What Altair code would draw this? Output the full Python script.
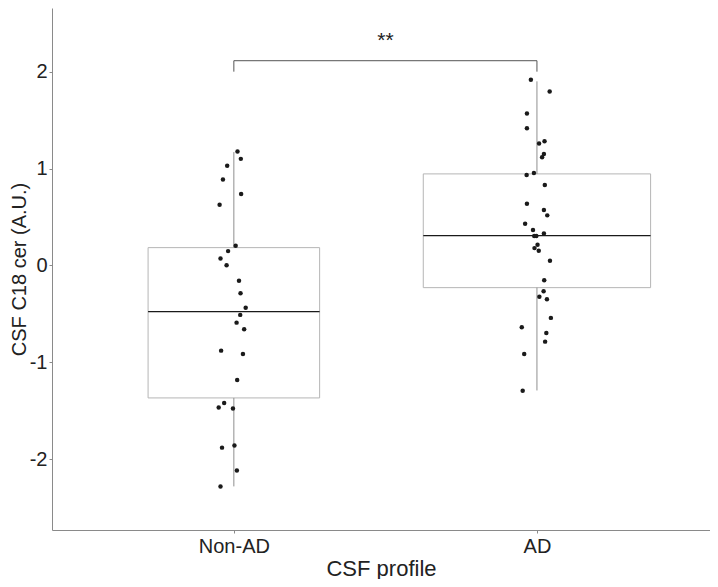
import altair as alt
import pandas as pd

# ---- data ----
groups = ["Non-AD", "AD"]

nonad_values = [1.176, 1.10, 1.03, 0.886, 0.737, 0.627, 0.204, 0.148, 0.072, 0.003,
                -0.158, -0.286, -0.437, -0.51, -0.59, -0.659, -0.879, -0.913, -1.182,
                -1.42, -1.465, -1.476, -1.88, -1.858, -2.117, -2.28]
nonad_jitter = [0.012, 0.023, -0.022, -0.036, 0.024, -0.047, 0.006, -0.019, -0.044, -0.024,
                0.017, 0.022, 0.039, 0.021, 0.009, 0.034, -0.042, 0.030, 0.011,
                -0.032, -0.050, -0.003, -0.039, 0.002, 0.010, -0.044]

ad_values = [1.916, 1.796, 1.568, 1.417, 1.282, 1.258, 1.151, 1.117, 0.934, 0.955, 0.83,
             0.638, 0.572, 0.517, 0.431, 0.365, 0.331, 0.303, 0.303, 0.214, 0.179, 0.152,
             0.049, -0.152, -0.266, -0.324, -0.348, -0.541, -0.638, -0.696, -0.786,
             -0.913, -1.293]
ad_jitter = [-0.020, 0.042, -0.033, -0.033, 0.025, 0.007, 0.023, 0.017, -0.034, -0.010, 0.026,
             -0.033, 0.023, 0.034, -0.039, -0.013, 0.023, -0.009, -0.002, 0.002, -0.008, 0.006,
             0.043, 0.024, 0.022, 0.008, 0.033, 0.046, -0.050, 0.031, 0.027,
             -0.042, -0.047]

# box statistics per group
box_q1 = [-1.367, -0.229]
box_median = [-0.477, 0.308]
box_q3 = [0.184, 0.945]
box_low = [-2.28, -1.29]
box_high = [1.17, 1.90]

# significance annotation
sig_label = "**"
sig_bar_y = 2.113
sig_leg_y = 2.0
sig_text_y = 2.317

y_ticks = [-2, -1, 0, 1, 2]

# ---- styling constants ----
BOX_HALF = [0.283, 0.375]
FONT = "Liberation Sans"
X_DOMAIN = [0.4, 2.571]
Y_DOMAIN = [-2.730, 2.657]

# ---- tables ----
pts = pd.DataFrame({
    "grp": [1] * len(nonad_values) + [2] * len(ad_values),
    "jit": nonad_jitter + ad_jitter,
    "val": nonad_values + ad_values,
})

boxes = pd.DataFrame({
    "grp": [1, 2],
    "half": BOX_HALF,
    "q1": box_q1, "med": box_median, "q3": box_q3,
    "lo": box_low, "hi": box_high,
})

sig = pd.DataFrame({"x1": [1], "x2": [2], "xm": [1.5], "bar": [sig_bar_y],
                    "leg": [sig_leg_y], "ty": [sig_text_y], "label": [sig_label]})

xscale = alt.Scale(domain=X_DOMAIN, nice=False, zero=False)
yscale = alt.Scale(domain=Y_DOMAIN, nice=False, zero=False)

xaxis = alt.Axis(values=[1, 2], title="CSF profile",
                 labelExpr="datum.value == 1 ? 'Non-AD' : 'AD'",
                 grid=False, tickSize=3, labelPadding=3, titlePadding=2,
                 titleFontSize=22)
yaxis = alt.Axis(values=y_ticks, title="CSF C18 cer (A.U.)",
                 labelExpr="'' + datum.value",
                 grid=False, tickSize=3, labelPadding=2, titlePadding=0,
                 titleFontSize=20)

base_box = alt.Chart(boxes).transform_calculate(
    xl="datum.grp - datum.half", xr="datum.grp + datum.half")

rect = base_box.mark_rect(fill="white", stroke="#b5b5b5", strokeWidth=1).encode(
    x=alt.X("xl:Q", scale=xscale, axis=xaxis),
    x2="xr:Q",
    y=alt.Y("q1:Q", scale=yscale, axis=yaxis),
    y2="q3:Q",
)

whisk_up = base_box.mark_rule(color="#8f8f8f", strokeWidth=1).encode(
    x="grp:Q", y="q3:Q", y2="hi:Q")
whisk_dn = base_box.mark_rule(color="#8f8f8f", strokeWidth=1).encode(
    x="grp:Q", y="lo:Q", y2="q1:Q")

median = base_box.mark_rule(color="#1a1a1a", strokeWidth=1.3).encode(
    x="xl:Q", x2="xr:Q", y="med:Q")

points = alt.Chart(pts).transform_calculate(px="datum.grp + datum.jit").mark_circle(
    size=20, color="#1a1a1a", opacity=1).encode(
    x="px:Q", y="val:Q")

bar = alt.Chart(sig).mark_rule(color="#555555", strokeWidth=1).encode(
    x="x1:Q", x2="x2:Q", y="bar:Q")
leg1 = alt.Chart(sig).mark_rule(color="#555555", strokeWidth=1).encode(
    x="x1:Q", y="leg:Q", y2="bar:Q")
leg2 = alt.Chart(sig).mark_rule(color="#555555", strokeWidth=1).encode(
    x="x2:Q", y="leg:Q", y2="bar:Q")
txt = alt.Chart(sig).mark_text(font=FONT, fontSize=21, color="#222222",
                               baseline="middle", align="center").encode(
    x="xm:Q", y="ty:Q", text="label:N")

chart = alt.layer(rect, whisk_up, whisk_dn, median, points, bar, leg1, leg2, txt).properties(
    width=658, height=522,
    autosize=alt.AutoSizeParams(type="none"),
    padding={"left": 44, "top": 0, "right": 0, "bottom": 49},
).configure_view(strokeWidth=0).configure_axis(
    domainColor="#8a8a8a", tickColor="#8a8a8a", labelColor="#222222",
    titleColor="#222222", labelFont=FONT, titleFont=FONT,
    labelFontSize=20, titleFontWeight="normal",
)

chart.save("out.html", embed_options={"renderer": "svg", "actions": False})
